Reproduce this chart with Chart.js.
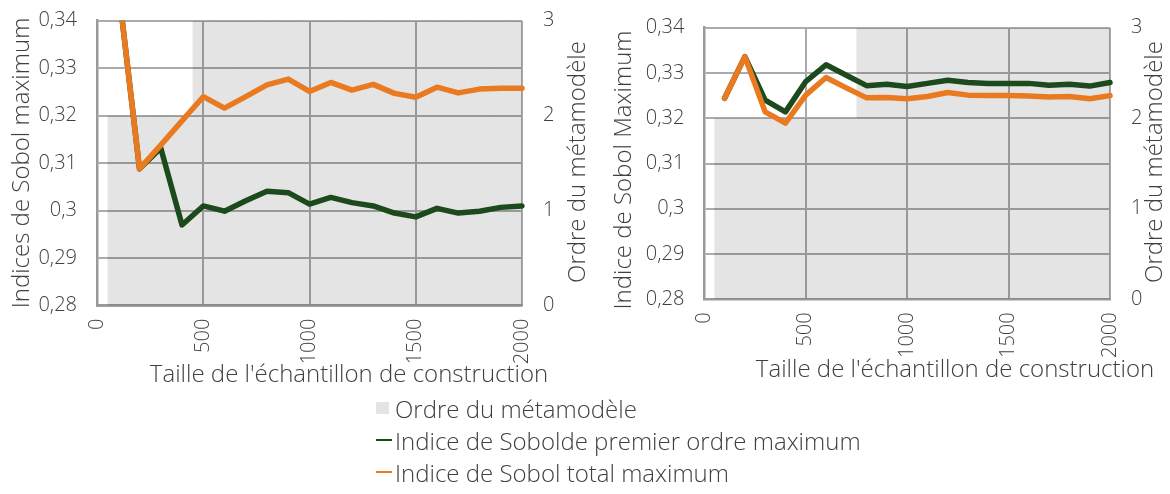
<!DOCTYPE html>
<html lang="fr">
<head>
<meta charset="utf-8">
<title>Indices de Sobol maximum</title>
<script src="https://cdn.jsdelivr.net/npm/chart.js@4.4.1/dist/chart.umd.min.js"></script>
<style>
  html, body { margin: 0; padding: 0; background: #fff; }
  body { position: relative; width: 1170px; height: 494px; overflow: hidden;
         font-family: "Open Sans", sans-serif; font-weight: 300; color: #404040; }
  canvas { position: absolute; top: 0; }
  #cA { left: 0; }
  #cB { left: 600px; }
  #legend { position: absolute; left: 376px; top: 392px; font-size: 24px; }
  #legend .row { height: 32px; display: flex; align-items: center; }
  #legend .key { width: 16px; margin-right: 3px; display: flex; align-items: center; }
  #legend .box { width: 13px; height: 12px; }
  #legend .dash { width: 16px; height: 2px; }
</style>
</head>
<body>
<canvas id="cA" width="600" height="394"></canvas>
<canvas id="cB" width="570" height="394"></canvas>
<div id="legend"></div>
<script>
// taille de l'échantillon de construction
const sizes = [100, 200, 300, 400, 500, 600, 700, 800, 900, 1000,
               1100, 1200, 1300, 1400, 1500, 1600, 1700, 1800, 1900, 2000];

// premier cas
const ordreA   = [2, 2, 2, 2, 3, 3, 3, 3, 3, 3, 3, 3, 3, 3, 3, 3, 3, 3, 3, 3];
const premierA = [0.3473, 0.3088, 0.3132, 0.2970, 0.3010, 0.2999, 0.3021, 0.3041, 0.3038, 0.3014,
                  0.3028, 0.3017, 0.3010, 0.2995, 0.2987, 0.3005, 0.2995, 0.2999, 0.3007, 0.3010];
const totalA   = [0.3473, 0.3088, 0.3138, 0.3189, 0.3240, 0.3216, 0.3240, 0.3265, 0.3277, 0.3251,
                  0.3270, 0.3254, 0.3266, 0.3247, 0.3239, 0.3260, 0.3248, 0.3256, 0.3258, 0.3258];

// second cas
const ordreB   = [2, 2, 2, 2, 2, 2, 2, 3, 3, 3, 3, 3, 3, 3, 3, 3, 3, 3, 3, 3];
const premierB = [0.3244, 0.3336, 0.3240, 0.3214, 0.3281, 0.3318, 0.3295, 0.3272, 0.3275, 0.3270,
                  0.3277, 0.3284, 0.3279, 0.3277, 0.3277, 0.3277, 0.3273, 0.3275, 0.3271, 0.3279];
const totalB   = [0.3244, 0.3336, 0.3214, 0.3189, 0.3251, 0.3290, 0.3267, 0.3245, 0.3246, 0.3243,
                  0.3248, 0.3257, 0.3251, 0.3250, 0.3250, 0.3249, 0.3247, 0.3248, 0.3243, 0.3250];

const sobolTicks = ['0,28', '0,29', '0,3', '0,31', '0,32', '0,33', '0,34'];
const ordreTicks = ['0', '1', '2', '3'];
const sizeTicks  = ['0', '500', '1000', '1500', '2000'];
const seriesNames = ['Ordre du métamodèle', 'Indice de Sobolde premier ordre maximum', 'Indice de Sobol total maximum'];

const GREY = 'rgba(0,0,0,0.105)';
const GREEN = '#1d4a1c';
const ORANGE = '#e97a1f';
const TEXT = '#404040';
const FONT = "'Open Sans', sans-serif";

Chart.defaults.font.family = FONT;
Chart.defaults.font.size = 20;
Chart.defaults.font.weight = 300;
Chart.defaults.color = TEXT;

// axis titles placed by hand (the right one reads upward like the left one)
const axisTitles = {
  id: 'axisTitles',
  afterDraw(chart, args, opts) {
    const ctx = chart.ctx;
    ctx.save();
    ctx.font = '300 24px ' + FONT;
    ctx.fillStyle = TEXT;
    ctx.textAlign = 'center';
    ctx.textBaseline = 'middle';
    opts.items.forEach(t => {
      ctx.save();
      ctx.translate(t.x, t.y);
      if (t.vertical) ctx.rotate(-Math.PI / 2);
      ctx.fillText(t.text, 0, 0);
      ctx.restore();
    });
    ctx.restore();
  }
};

function points(values) {
  return sizes.map((n, i) => ({ x: n, y: values[i] }));
}

function noPad(s) {
  s.paddingTop = 0; s.paddingBottom = 0; s.paddingLeft = 0; s.paddingRight = 0;
}

function buildChart(id, ordre, premier, total, box, titles) {
  const line = (label, values, color, order) => ({
    type: 'line', label, data: points(values), yAxisID: 'y',
    borderColor: color, borderWidth: 5.5, pointRadius: 0, tension: 0,
    borderJoinStyle: 'round', borderCapStyle: 'round', order,
    clip: { left: 4, right: 4, top: 0, bottom: 4 }
  });

  return new Chart(document.getElementById(id), {
    type: 'line',
    data: {
      datasets: [
        { type: 'bar', label: seriesNames[0], data: points(ordre), yAxisID: 'y2',
          backgroundColor: GREY, barPercentage: 1, categoryPercentage: 1, inflateAmount: 0,
          grouped: false, order: 3 },
        line(seriesNames[1], premier, GREEN, 2),
        line(seriesNames[2], total, ORANGE, 1)
      ]
    },
    options: {
      responsive: false,
      animation: false,
      events: [],
      layout: { padding: { top: box.top, bottom: 0, left: 0, right: 0 } },
      plugins: {
        legend: { display: false },
        tooltip: { enabled: false },
        axisTitles: { items: titles }
      },
      scales: {
        x: {
          type: 'linear', min: 0, max: 2000, offset: false,
          grid: { color: '#ababab', lineWidth: 2, drawTicks: false, offset: false },
          border: { color: '#9a9a9a', width: 2.5 },
          ticks: { stepSize: 500, minRotation: 90, maxRotation: 90, padding: 13,
                   callback: v => sizeTicks[v / 500] },
          afterFit: s => { s.height = box.xHeight; noPad(s); }
        },
        y: {
          min: 0.28, max: 0.34,
          grid: { color: '#ababab', lineWidth: 2, drawTicks: false },
          border: { color: '#9a9a9a', width: 2.5 },
          ticks: { stepSize: 0.01, padding: 20, callback: (v, i) => sobolTicks[i] },
          afterFit: s => { s.width = box.left; noPad(s); }
        },
        y2: {
          position: 'right', min: 0, max: 3,
          grid: { display: false, drawTicks: false },
          border: { display: false },
          ticks: { stepSize: 1, padding: 21, callback: (v, i) => ordreTicks[i] },
          afterFit: s => { s.width = box.right; noPad(s); }
        }
      }
    },
    plugins: [axisTitles]
  });
}

buildChart('cA', ordreA, premierA, totalA,
  { top: 20.7, xHeight: 88.3, left: 97, right: 78 },
  [
    { text: 'Indices de Sobol maximum', x: 22, y: 163, vertical: true },
    { text: 'Ordre du métamodèle', x: 578, y: 162, vertical: true },
    { text: "Taille de l'échantillon de construction", x: 349, y: 375 }
  ]);

buildChart('cB', ordreB, premierB, totalB,
  { top: 27.7, xHeight: 94.7, left: 104.3, right: 60 },
  [
    { text: 'Indice de Sobol Maximum', x: 24, y: 170, vertical: true },
    { text: 'Ordre du métamodèle', x: 555, y: 162, vertical: true },
    { text: "Taille de l'échantillon de construction", x: 355, y: 370 }
  ]);

// shared legend under both panels
const legendKeys = [
  '<span class="box" style="background:#e4e4e4"></span>',
  '<span class="dash" style="background:' + GREEN + '"></span>',
  '<span class="dash" style="background:' + ORANGE + '"></span>'
];
document.getElementById('legend').innerHTML = seriesNames.map((name, i) =>
  '<div class="row"><span class="key">' + legendKeys[i] + '</span><span>' + name + '</span></div>'
).join('');
</script>
</body>
</html>
